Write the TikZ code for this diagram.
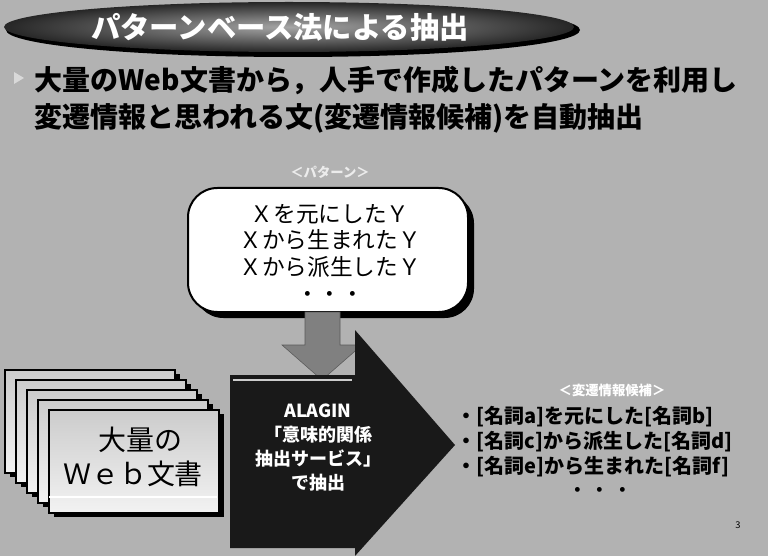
\documentclass[tikz,border=0pt]{standalone}
\usepackage{fontspec}
\setmainfont{Noto Sans CJK JP}
\usetikzlibrary{shadows}
\begin{document}
\begin{tikzpicture}[x=0.75pt,y=-0.75pt,
  doc/.style={draw=black,line width=1pt,top color=gray!40,bottom color=gray!10,drop shadow={shadow xshift=4pt,shadow yshift=-3pt,fill=black,opacity=1}},
  big/.style={font=\fontsize{21}{24}\selectfont\bfseries},
  mid/.style={font=\fontsize{17}{20}\selectfont},
  wtxt/.style={text=white,font=\fontsize{13.5}{18}\selectfont\bfseries,align=center}]
\fill[gray!60] (0,0) rectangle (768,556);
\useasboundingbox (0,0) rectangle (768,556);
% title
\fill[black] (293,30) ellipse [x radius=287,y radius=27];
\shade[outer color=black!85,inner color=gray!70] (289,27) ellipse [x radius=285,y radius=25];
\node[text=white,font=\fontsize{22}{24}\selectfont\bfseries] (title) at (280,27) {パターンベース法による抽出};
% bullet
\fill[gray!30] (14,72) -- (24,78) -- (14,84) -- cycle;
\node[anchor=west,big] (l1) at (30,80) {大量のWeb文書から，人手で作成したパターンを利用し};
\node[anchor=west,big] (l2) at (30,118) {変遷情報と思われる文(変遷情報候補)を自動抽出};
% pattern box
\node[text=gray!15,mid,font=\bfseries] (pt) at (330,172) {＜パターン＞};
\fill[black,rounded corners=22pt] (194,194) rectangle (474,318);
\draw[fill=white,line width=1.5pt,rounded corners=22pt] (188,188) rectangle (468,312);
\node[mid,align=center] (pats) at (330,253) {Ｘを元にしたＹ\\Ｘから生まれたＹ\\Ｘから派生したＹ\\・・・};
% down arrow
\draw[fill=gray,draw=gray!70!black] (305,312) -- (340,312) -- (340,345) -- (362,345) -- (322,380) -- (282,345) -- (305,345) -- cycle;
% big arrow
\fill[black!90] (230,375) -- (355,375) -- (355,330) -- (455,445) -- (355,556) -- (355,548) -- (230,548) -- cycle;
\draw[gray!40,line width=0.8pt] (233,380) -- (352,380);
\node[wtxt] (alg) at (318,448) {ALAGIN\\「意味的関係\\抽出サービス」\\で抽出};
% docs
\foreach \i in {0,...,4}{
  \draw[doc] ({5+11*\i},{370+10*\i}) rectangle ({175+11*\i},{473+10*\i});
}
\draw[white,line width=1pt] (49,497) -- (217,497);
\node[font=\fontsize{21}{24}\selectfont] (d1) at (140,440) {大量の};
\node[font=\fontsize{21}{24}\selectfont] (d2) at (133,474) {Ｗｅｂ文書};
% candidates
\node[text=white,mid,font=\bfseries] (ct) at (612,390) {＜変遷情報候補＞};
\node[anchor=west,font=\fontsize{15}{18.75}\selectfont\bfseries,align=left] (c) at (452,442) {・[名詞a]を元にした[名詞b]\\・[名詞c]から派生した[名詞d]\\・[名詞e]から生まれた[名詞f]};
\node[mid] (dots) at (600,493) {・・・};
\node[font=\scriptsize] (pg) at (738,525) {3};
\end{tikzpicture}
\end{document}
